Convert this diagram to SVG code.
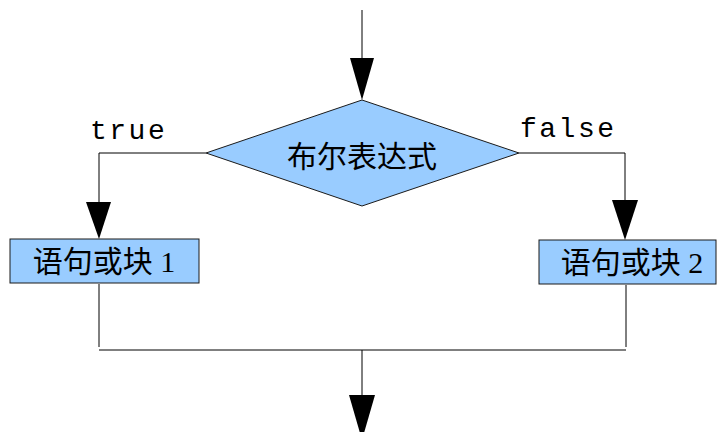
<svg xmlns="http://www.w3.org/2000/svg" width="720" height="432" viewBox="0 0 720 432">
<defs>
<style>
.node{fill:#99ccff;stroke:#1a1a1a;stroke-width:1}
.lbl{font-family:"Liberation Serif","Noto Sans CJK SC",serif;font-size:30px;fill:#000;text-anchor:middle}
.mono{font-family:"Liberation Mono",monospace;font-size:28px;fill:#000;letter-spacing:2.5px}
.edge{fill:none;stroke:#000;stroke-width:1}
.head{fill:#000}
</style>
</defs>
<rect width="720" height="432" fill="#fff"/>
<g id="connectors">
<path class="edge" d="M362,10 V60"/>
<polygon class="head" points="350,58 374,58 362,100"/>
<path class="edge" d="M206,153 H99 V204"/>
<polygon class="head" points="86,202 111,202 99,239"/>
<path class="edge" d="M519,153 H625 V202"/>
<polygon class="head" points="612,200 638,200 625,240"/>
<path class="edge" d="M99,284 V347"/>
<path class="edge" d="M626,285 V347"/>
<path class="edge" d="M99,350 H626"/>
<path class="edge" d="M362,350 V397"/>
<polygon class="head" points="349,395 375,395 362,440"/>
<text class="mono" x="90" y="139">true</text>
<text class="mono" x="520" y="137">false</text>
</g>
<g id="decision">
<polygon class="node" points="362,100 519,153 362,206 206,153"/>
<text class="lbl" x="362" y="167">布尔表达式</text>
</g>
<g id="block1">
<rect class="node" x="10" y="239" width="189" height="44"/>
<text class="lbl" x="104" y="272">语句或块 1</text>
</g>
<g id="block2">
<rect class="node" x="539" y="240" width="177" height="44"/>
<text class="lbl" x="632" y="273">语句或块 2</text>
</g>
</svg>
